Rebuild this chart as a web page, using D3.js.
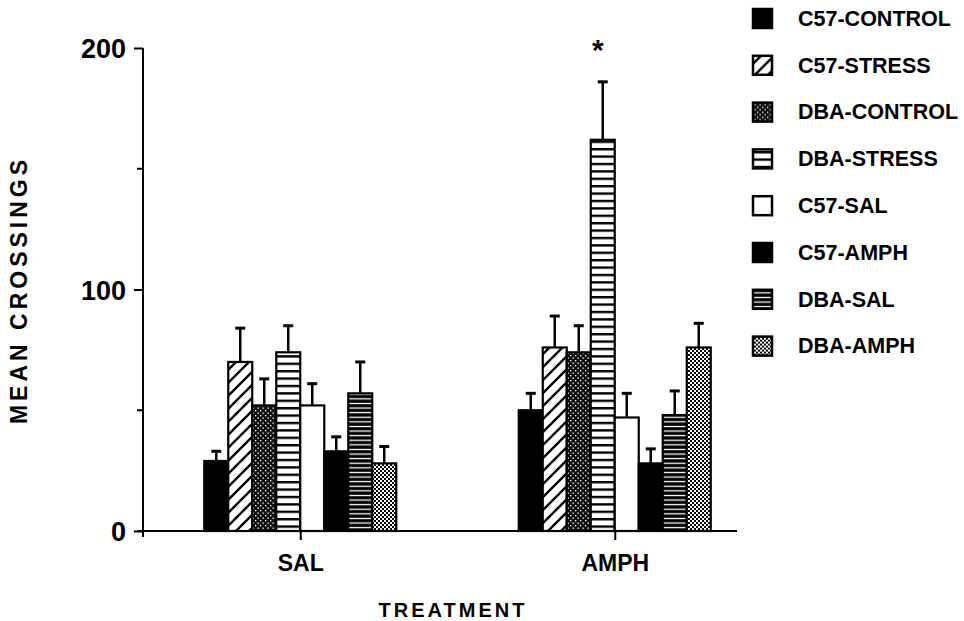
<!DOCTYPE html>
<html>
<head>
<meta charset="utf-8">
<script src="https://cdn.jsdelivr.net/npm/d3@7"></script>
<style>
  body { margin: 0; background: #fff; }
  text { font-family: "Liberation Sans", Arial, Helvetica, sans-serif; font-weight: bold; fill: #000; }
</style>
</head>
<body>
<div id="chart"></div>
<script>
// treatment groups on the x axis
var categories = ["SAL", "AMPH"];
// strain / condition series, in legend order
var series = ["C57-CONTROL", "C57-STRESS", "DBA-CONTROL", "DBA-STRESS",
              "C57-SAL", "C57-AMPH", "DBA-SAL", "DBA-AMPH"];
// mean crossings per series, one array per treatment
var meansSAL  = [29, 70, 52, 74, 52, 33, 57, 28];
var meansAMPH = [50, 76, 74, 162, 47, 28, 48, 76];
// error (SEM) per series
var errSAL  = [4, 14, 11, 11, 9, 6, 13, 7];
var errAMPH = [7, 13, 11, 24, 10, 6, 10, 10];
var yTicks = [0, 100, 200];
var yMinorTicks = [50, 150];

var width = 964, height = 621;

var svg = d3.select("#chart").append("svg")
  .attr("width", width)
  .attr("height", height);

// fill patterns
var defs = svg.append("defs");

var p = defs.append("pattern").attr("id", "diag")
  .attr("patternUnits", "userSpaceOnUse").attr("width", 13).attr("height", 13);
p.append("rect").attr("width", 13).attr("height", 13).attr("fill", "#fff");
p.append("path").attr("d", "M-3,3 l6,-6 M0,13 l13,-13 M10,16 l6,-6")
  .attr("stroke", "#000").attr("stroke-width", 2.4);

p = defs.append("pattern").attr("id", "stipple")
  .attr("patternUnits", "userSpaceOnUse").attr("width", 5).attr("height", 5);
p.append("rect").attr("width", 5).attr("height", 5).attr("fill", "#111");
p.append("rect").attr("x", 0).attr("y", 0).attr("width", 1.3).attr("height", 1.3).attr("fill", "#fff");
p.append("rect").attr("x", 2.5).attr("y", 2.5).attr("width", 1.3).attr("height", 1.3).attr("fill", "#fff");

p = defs.append("pattern").attr("id", "hstripe")
  .attr("patternUnits", "userSpaceOnUse").attr("width", 8).attr("height", 7.4);
p.append("rect").attr("width", 8).attr("height", 7.4).attr("fill", "#fff");
p.append("rect").attr("y", 0).attr("width", 8).attr("height", 2.4).attr("fill", "#000");

p = defs.append("pattern").attr("id", "dense")
  .attr("patternUnits", "userSpaceOnUse").attr("width", 8).attr("height", 4.6);
p.append("rect").attr("width", 8).attr("height", 4.6).attr("fill", "#000");
p.append("rect").attr("y", 2.6).attr("width", 8).attr("height", 1.3).attr("fill", "#fff");

p = defs.append("pattern").attr("id", "check")
  .attr("patternUnits", "userSpaceOnUse").attr("width", 4).attr("height", 4);
p.append("rect").attr("width", 4).attr("height", 4).attr("fill", "#000");
p.append("rect").attr("x", 0).attr("y", 0).attr("width", 2).attr("height", 2).attr("fill", "#fff");
p.append("rect").attr("x", 2).attr("y", 2).attr("width", 2).attr("height", 2).attr("fill", "#fff");

var fills = d3.scaleOrdinal()
  .domain(series)
  .range(["#000", "url(#diag)", "url(#stipple)", "url(#hstripe)",
          "#fff", "#000", "url(#dense)", "url(#check)"]);

// scales
var x = d3.scalePoint()
  .domain(categories)
  .range([143, 772])
  .padding(0.5);

var xInner = d3.scaleBand()
  .domain(series)
  .range([-96, 96]);

var y = d3.scaleLinear()
  .domain([0, 200])
  .range([531, 48]);

var data = [];
categories.forEach(function (c) {
  var m = c == "SAL" ? meansSAL : meansAMPH;
  var e = c == "SAL" ? errSAL : errAMPH;
  series.forEach(function (s, i) {
    data.push({ cat: c, series: s, value: m[i], err: e[i] });
  });
});

// error bars (drawn first so bars sit on top)
var eb = svg.append("g").selectAll("g")
  .data(data)
  .enter()
  .append("g");
eb.append("line")
  .attr("x1", function (d) { return x(d.cat) + xInner(d.series) + xInner.bandwidth() / 2; })
  .attr("x2", function (d) { return x(d.cat) + xInner(d.series) + xInner.bandwidth() / 2; })
  .attr("y1", function (d) { return y(d.value); })
  .attr("y2", function (d) { return y(d.value + d.err); })
  .attr("stroke", "#000").attr("stroke-width", 2.5);
eb.append("line")
  .attr("x1", function (d) { return x(d.cat) + xInner(d.series) + xInner.bandwidth() / 2 - 5; })
  .attr("x2", function (d) { return x(d.cat) + xInner(d.series) + xInner.bandwidth() / 2 + 5; })
  .attr("y1", function (d) { return y(d.value + d.err); })
  .attr("y2", function (d) { return y(d.value + d.err); })
  .attr("stroke", "#000").attr("stroke-width", 3);

// bars
svg.append("g").selectAll("rect")
  .data(data)
  .enter()
  .append("rect")
  .attr("x", function (d) { return x(d.cat) + xInner(d.series); })
  .attr("y", function (d) { return y(d.value); })
  .attr("width", xInner.bandwidth())
  .attr("height", function (d) { return y(0) - y(d.value); })
  .style("fill", function (d) { return fills(d.series); })
  .style("stroke", "#000")
  .style("stroke-width", 2.2);

// significance mark
svg.append("text")
  .attr("x", x("AMPH") + xInner("DBA-STRESS") + xInner.bandwidth() / 2 - 5)
  .attr("y", y(186) - 22)
  .attr("text-anchor", "middle")
  .style("font-size", "30px")
  .text("*");

// y axis
var yAxis = svg.append("g")
  .attr("transform", "translate(143,0)")
  .call(d3.axisLeft(y).tickValues(yTicks).tickSize(9).tickPadding(8));
yAxis.select(".domain").attr("d", "M0," + y(200) + "V" + (y(0) + 6));
yAxis.selectAll("line").attr("stroke-width", 2);
yAxis.select(".domain").attr("stroke-width", 2);
yAxis.selectAll("text").style("font-size", "27px").attr("dy", "0.36em");
svg.append("g").selectAll("line")
  .data(yMinorTicks)
  .enter()
  .append("line")
  .attr("x1", 137).attr("x2", 143)
  .attr("y1", function (d) { return y(d); })
  .attr("y2", function (d) { return y(d); })
  .attr("stroke", "#000").attr("stroke-width", 2);

// x axis
var xAxis = svg.append("g")
  .attr("transform", "translate(0," + y(0) + ")")
  .call(d3.axisBottom(x).tickSize(9).tickPadding(15));
xAxis.select(".domain").attr("d", "M137,0H737").attr("stroke-width", 2);
xAxis.selectAll("line").attr("stroke-width", 2);
xAxis.selectAll("text").style("font-size", "23px");

// axis titles
svg.append("text")
  .attr("x", 453)
  .attr("y", 617)
  .attr("text-anchor", "middle")
  .style("font-size", "20px")
  .style("letter-spacing", "3px")
  .text("TREATMENT");

svg.append("text")
  .attr("transform", "translate(27,290) rotate(-90)")
  .attr("text-anchor", "middle")
  .style("font-size", "23px")
  .style("letter-spacing", "4px")
  .text("MEAN  CROSSINGS");

// legend
var legend = svg.append("g").selectAll("g")
  .data(series)
  .enter()
  .append("g")
  .attr("transform", function (d, i) { return "translate(752," + (18 + i * 46.8) + ")"; });
legend.append("rect")
  .attr("x", 1).attr("y", -9)
  .attr("width", 19).attr("height", 19)
  .style("fill", function (d) { return fills(d); })
  .style("stroke", "#000")
  .style("stroke-width", 2.5);
legend.append("text")
  .attr("x", 46)
  .attr("y", 0)
  .attr("dy", "0.36em")
  .style("font-size", "21.5px")
  .text(function (d) { return d; });
</script>
</body>
</html>
